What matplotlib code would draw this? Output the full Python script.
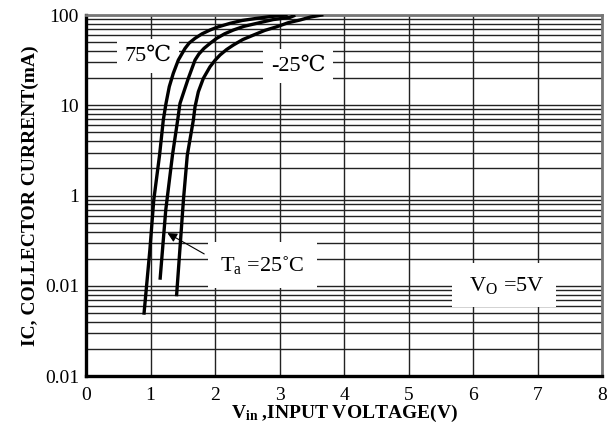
import numpy as np
import matplotlib
matplotlib.use('Agg')
import matplotlib.pyplot as plt
from matplotlib.ticker import FixedLocator, LogLocator, NullFormatter

plt.rcParams['font.family'] = ['Liberation Serif', 'DejaVu Serif', 'DejaVu Sans']
plt.rcParams['mathtext.fontset'] = 'custom'
plt.rcParams['mathtext.rm'] = 'Liberation Serif'
plt.rcParams['mathtext.it'] = 'Liberation Serif:italic'
plt.rcParams['mathtext.bf'] = 'Liberation Serif:bold'

# 75 C curve (leftmost)
v_75 = [0.90, 0.99, 1.05, 1.14, 1.198, 1.240, 1.291, 1.353, 1.431, 1.535, 1.60, 1.690,
        1.80, 1.922, 2.05, 2.233, 2.42, 2.647, 2.85, 3.10]
i_75 = [0.05, 0.25, 0.89, 2.8, 6.87, 10.5, 16.1, 22.6, 31.7, 42.7, 49, 55.2,
        62, 68.2, 74, 80.9, 87, 91.9, 96, 100]

# 25 C curve (middle)
v_25 = [1.15, 1.236, 1.34, 1.421, 1.457, 1.509, 1.586, 1.690, 1.75, 1.829, 1.93, 2.026,
        2.15, 2.284, 2.45, 2.647, 2.90, 3.163, 3.22]
i_25 = [0.122, 0.69, 2.8, 6.87, 10.5, 13.6, 19.9, 31.7, 37, 42.7, 49, 55.2,
        62, 68.2, 75, 80.9, 89, 94.3, 98]

# -25 C curve (right)
v_m25 = [1.405, 1.51, 1.57, 1.664, 1.690, 1.741, 1.819, 1.922, 2.00, 2.078, 2.18, 2.284,
         2.43, 2.594, 2.77, 2.956, 3.13, 3.318, 3.48, 3.654]
i_m25 = [0.080, 0.89, 2.8, 6.87, 9.64, 14.1, 19.9, 26.7, 31.5, 36.1, 41.5, 46.5,
         53.5, 59.9, 67.5, 74.1, 82, 88.1, 95, 100]

y_ticks = [0.01, 0.1, 1, 10, 100]
y_labels = ['0.01', '0.01', '1', '10', '100']
x_ticks = [0, 1, 2, 3, 4, 5, 6, 7, 8]

fig = plt.figure(figsize=(6.1, 4.42), dpi=100)
ax = fig.add_axes([0.141, 0.149, 0.846, 0.817])
ax.set_yscale('log')
ax.set_xlim(0, 8)
ax.set_ylim(0.01, 100)

ax.xaxis.set_major_locator(FixedLocator(x_ticks))
ax.yaxis.set_major_locator(FixedLocator(y_ticks))
ax.set_yticklabels(y_labels)
ax.yaxis.set_minor_locator(LogLocator(base=10, subs=np.arange(2, 10)))
ax.yaxis.set_minor_formatter(NullFormatter())
ax.tick_params(which='both', length=0, labelsize=14)
ax.tick_params(axis='x', pad=8)
ax.tick_params(axis='y', pad=5)

ax.set_axisbelow(True)
ax.grid(which='major', axis='both', color='#222222', lw=1.0)
ax.grid(which='minor', axis='y', color='#222222', lw=1.0)

for s in ['left', 'bottom']:
    ax.spines[s].set_linewidth(2.4)
    ax.spines[s].set_color('black')
for s in ['top', 'right']:
    ax.spines[s].set_linewidth(2.0)
    ax.spines[s].set_color('#777777')

ax.plot(v_75, i_75, color='black', lw=2.4, zorder=4, solid_joinstyle='round')
ax.plot(v_25, i_25, color='black', lw=2.4, zorder=4, solid_joinstyle='round')
ax.plot(v_m25, i_m25, color='black', lw=2.4, zorder=4, solid_joinstyle='round')

box = dict(boxstyle='square,pad=0.35', fc='white', ec='none')
ax.text(0.96, 35.2, '75\u2103', fontsize=16, ha='center', va='center', bbox=box, zorder=3)
ax.text(3.29, 27.2, '-25\u2103', fontsize=16, ha='center', va='center', bbox=box, zorder=3)
ax.text(2.73, 0.17, 'T$_{\\mathrm{a}}$ =25\u02daC', fontsize=16, ha='center', va='center',
        bbox=dict(boxstyle='square,pad=0.55', fc='white', ec='none'), zorder=3)
ax.text(6.48, 0.102, ' V$_{\\mathrm{O}}$ =5V ', fontsize=16, ha='center', va='center',
        bbox=dict(boxstyle='square,pad=0.5', fc='white', ec='none'), zorder=3)

ax.annotate('', xy=(1.225, 0.398), xytext=(1.87, 0.218),
            arrowprops=dict(arrowstyle='-|>', color='black', lw=0.8, mutation_scale=14),
            zorder=5)

ax.set_xlabel('$\\mathbf{V_{in}}$ ,INPUT VOLTAGE(V)', fontsize=14, fontweight='bold', labelpad=-1)
ax.set_ylabel('IC, COLLECTOR CURRENT(mA)', fontsize=14, fontweight='bold', labelpad=4)

fig.savefig('out.png', dpi=100)
